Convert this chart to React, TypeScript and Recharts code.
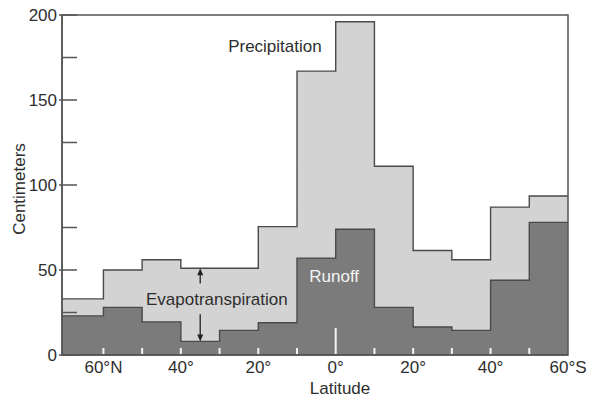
import React from 'react';
import {
  ComposedChart,
  Area,
  XAxis,
  YAxis,
  ReferenceArea,
  ReferenceLine,
  ReferenceDot,
  Label,
} from 'recharts';

// Bin start latitudes (negative = north), last bin ends at 60°S
const binStarts = [-70.7, -60, -50, -40, -30, -20, -10, 0, 10, 20, 30, 40, 50];
const binEnd = 60;
const precipitation = [33, 50, 56, 51, 51, 75.5, 167, 196, 111, 61.5, 56, 87, 93.5];
const runoff = [23, 28, 19.5, 8, 14.5, 19, 57, 74, 28, 16.5, 14.5, 44, 78];

const xTicks = [-60, -50, -40, -30, -20, -10, 0, 10, 20, 30, 40, 50, 60];
const xMarkValues = [-60, -50, -40, -30, -20, -10, 0, 10, 20, 30, 40, 50];
const xLabelValues = [-60, -40, -20, 0, 20, 40, 60];
const xLabels = ['60°N', '40°', '20°', '0°', '20°', '40°', '60°S'];
const yTicks = [0, 25, 50, 75, 100, 125, 150, 175, 200];
const yLabelValues = [0, 50, 100, 150, 200];

// Evapotranspiration arrow (latitude, top, text gap top, text gap bottom, bottom)
const evapArrowLat = -35;
const evapArrowTop = 51;
const evapGapTop = 42;
const evapGapBottom = 24;
const evapArrowBottom = 8;

const data = [
  ...binStarts.map((lat, i) => ({ lat, precipitation: precipitation[i], runoff: runoff[i] })),
  {
    lat: binEnd,
    precipitation: precipitation[precipitation.length - 1],
    runoff: runoff[runoff.length - 1],
  },
];

const FONT = '"Liberation Sans", Arial, Helvetica, sans-serif';
const TEXT = '#2e2e2e';
const LINE = '#555';

const TICK_SIZE = 6;
const TICK_MARGIN = 2;

const XTick = (props: any) => {
  const { x, y, payload } = props;
  const axisY = y - TICK_SIZE - TICK_MARGIN;
  const idx = xLabelValues.indexOf(payload.value);
  if (idx < 0) return <g />;
  return (
    <text x={x} y={axisY + 18} textAnchor="middle" fontFamily={FONT} fontSize={17} fill={TEXT}>
      {xLabels[idx]}
    </text>
  );
};

const YTick = (props: any) => {
  const { x, y, payload } = props;
  const axisX = x + TICK_SIZE + TICK_MARGIN;
  const v = payload.value;
  const major = yLabelValues.includes(v);
  return (
    <g>
      <line x1={major ? axisX - 3 : axisX} x2={axisX + 15} y1={y} y2={y} stroke={LINE} strokeWidth={1.5} />
      {major && (
        <text x={axisX - 5} y={y + 6} textAnchor="end" fontFamily={FONT} fontSize={17} fill={TEXT}>
          {v}
        </text>
      )}
    </g>
  );
};

const markShape = (len: number) => (p: any) => {
  const { x1, y1, x2, y2 } = p;
  const bottom = Math.max(y1, y2);
  const x = x1 ?? x2;
  return <line x1={x} x2={x} y1={bottom - 1} y2={bottom - len} stroke="#f4f4f4" strokeWidth={2} />;
};

const arrowShape = (p: any) => {
  const { x1, y1, x2, y2 } = p;
  const dir = y2 > y1 ? 1 : -1;
  return (
    <g>
      <line x1={x1} y1={y1} x2={x2} y2={y2 - dir * 4} stroke="#222" strokeWidth={1.3} />
      <polygon
        points={`${x2},${y2} ${x2 - 3},${y2 - dir * 7} ${x2 + 3},${y2 - dir * 7}`}
        fill="#222"
      />
    </g>
  );
};

export default function App() {
  return (
    <div style={{ position: 'absolute', left: 0, top: 0 }}>
      <ComposedChart
        width={590}
        height={398}
        data={data}
        margin={{ top: 15, right: 22, bottom: 0, left: 0 }}
      >
        <Area
          type="stepAfter"
          dataKey="precipitation"
          stroke="#4a4a4a"
          strokeWidth={1.4}
          fill="#d3d3d3"
          fillOpacity={1}
          isAnimationActive={false}
          dot={false}
          activeDot={false}
        />
        <Area
          type="stepAfter"
          dataKey="runoff"
          stroke="#4a4a4a"
          strokeWidth={1.4}
          fill="#7b7b7b"
          fillOpacity={1}
          isAnimationActive={false}
          dot={false}
          activeDot={false}
        />
        {xMarkValues.map((v) => (
          <ReferenceLine key={`m${v}`} x={v} shape={markShape(v === 0 ? 27 : 7)} />
        ))}
        <ReferenceArea
          x1={binStarts[0]}
          x2={binEnd}
          y1={0}
          y2={200}
          fill="none"
          fillOpacity={0}
          stroke={LINE}
          strokeWidth={1.5}
        />
        <ReferenceLine
          segment={[
            { x: evapArrowLat, y: evapGapTop },
            { x: evapArrowLat, y: evapArrowTop },
          ]}
          shape={arrowShape}
        />
        <ReferenceLine
          segment={[
            { x: evapArrowLat, y: evapGapBottom },
            { x: evapArrowLat, y: evapArrowBottom },
          ]}
          shape={arrowShape}
        />
        <ReferenceDot x={-15.7} y={182} r={0} fill="none" stroke="none">
          <Label value="Precipitation" position="center" fontFamily={FONT} fontSize={17} fill={TEXT} />
        </ReferenceDot>
        <ReferenceDot x={-0.4} y={46.5} r={0} fill="none" stroke="none">
          <Label value="Runoff" position="center" fontFamily={FONT} fontSize={17} fill="#f4f4f4" />
        </ReferenceDot>
        <ReferenceDot x={-30.7} y={33} r={0} fill="none" stroke="none">
          <Label value="Evapotranspiration" position="center" fontFamily={FONT} fontSize={17} fill={TEXT} />
        </ReferenceDot>
        <XAxis
          type="number"
          dataKey="lat"
          domain={[binStarts[0], binEnd]}
          ticks={xTicks}
          interval={0}
          allowDataOverflow
          height={43}
          axisLine={{ stroke: LINE, strokeWidth: 1.5 }}
          tickLine={false}
          tickSize={TICK_SIZE}
          tickMargin={TICK_MARGIN}
          tick={<XTick />}
        >
          <Label
            content={() => (
              <text x={340} y={394} textAnchor="middle" fontFamily={FONT} fontSize={17} fill={TEXT}>
                Latitude
              </text>
            )}
          />
        </XAxis>
        <YAxis
          type="number"
          domain={[0, 200]}
          ticks={yTicks}
          interval={0}
          width={62}
          axisLine={{ stroke: LINE, strokeWidth: 1.5 }}
          tickLine={false}
          tickSize={TICK_SIZE}
          tickMargin={TICK_MARGIN}
          tick={<YTick />}
        >
          <Label
            content={() => (
              <text
                x={25}
                y={189}
                textAnchor="middle"
                transform="rotate(-90, 25, 189)"
                fontFamily={FONT}
                fontSize={17}
                fill={TEXT}
              >
                Centimeters
              </text>
            )}
          />
        </YAxis>
      </ComposedChart>
    </div>
  );
}
